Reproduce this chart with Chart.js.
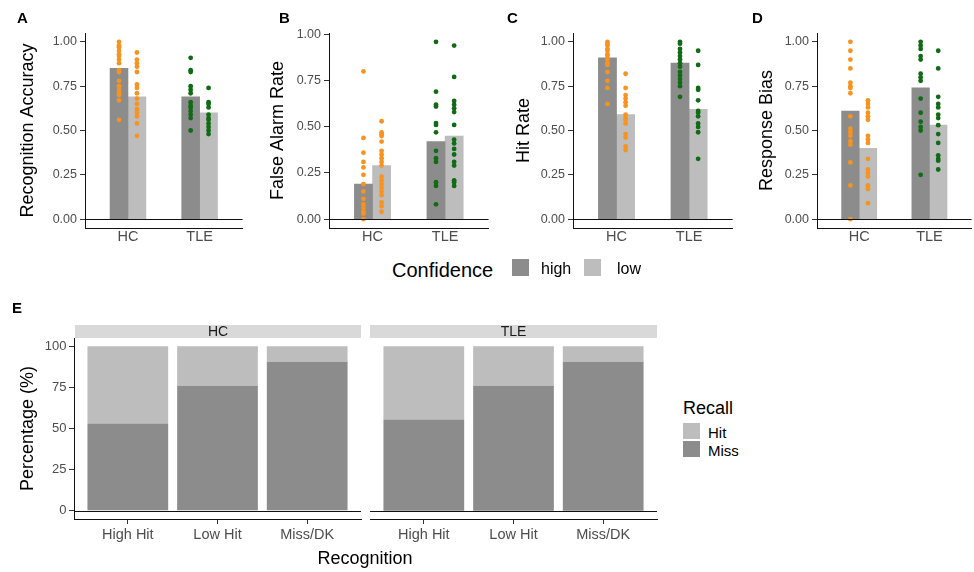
<!DOCTYPE html>
<html><head><meta charset="utf-8">
<script src="https://cdn.jsdelivr.net/npm/chart.js@4.4.1/dist/chart.umd.min.js"></script>
<style>
body{margin:0;background:#fff;}
#wrap{position:relative;width:974px;height:572px;overflow:hidden;font-family:"Liberation Sans",Arial,sans-serif;background:#fff;}
canvas{position:absolute;}
.t{position:absolute;white-space:nowrap;line-height:1;transform:translateY(-50%);color:#000;}
.lbl{font-weight:bold;font-size:15px;}
.strip{position:absolute;background:#d9d9d9;color:#1a1a1a;font-size:14px;text-align:center;line-height:13px;height:13px;}
.key{position:absolute;}
</style></head><body><div id="wrap">
<canvas id="cA" width="245" height="250" style="left:0;top:0"></canvas>
<canvas id="cB" width="246" height="250" style="left:245px;top:0"></canvas>
<canvas id="cC" width="245" height="250" style="left:490px;top:0"></canvas>
<canvas id="cD" width="240" height="250" style="left:734px;top:0"></canvas>
<canvas id="cE1" width="362" height="272" style="left:0;top:300px"></canvas>
<canvas id="cE2" width="300" height="272" style="left:362px;top:300px"></canvas>
</div>
<script>
// ---------- data ----------
const groups = ['HC', 'TLE'];
const confidence = ['high', 'low'];
const topTicks = [0, 0.25, 0.5, 0.75, 1];

// A: Recognition Accuracy
const accMeanHigh = [0.85, 0.69];
const accMeanLow = [0.69, 0.60];
const accHCHigh = [1.00, 0.98, 0.97, 0.95, 0.93, 0.92, 0.90, 0.88, 0.84, 0.83, 0.78, 0.75, 0.73, 0.71, 0.70, 0.67, 0.56];
const accHCLow = [0.94, 0.90, 0.88, 0.86, 0.83, 0.76, 0.74, 0.71, 0.68, 0.65, 0.62, 0.60, 0.58, 0.54, 0.47];
const accTLEHigh = [0.91, 0.84, 0.83, 0.75, 0.73, 0.71, 0.66, 0.64, 0.63, 0.61, 0.59, 0.57, 0.50];
const accTLELow = [0.74, 0.66, 0.65, 0.63, 0.59, 0.57, 0.56, 0.54, 0.52, 0.50, 0.48];

// B: False Alarm Rate
const faMeanHigh = [0.19, 0.42];
const faMeanLow = [0.29, 0.45];
const faHCHigh = [0.80, 0.44, 0.36, 0.31, 0.28, 0.24, 0.19, 0.15, 0.11, 0.08, 0.06, 0.04, 0.03, 0.00];
const faHCLow = [0.53, 0.47, 0.46, 0.45, 0.42, 0.37, 0.35, 0.33, 0.31, 0.29, 0.23, 0.21, 0.19, 0.17, 0.15, 0.13, 0.09, 0.07, 0.04];
const faTLEHigh = [0.96, 0.69, 0.62, 0.61, 0.52, 0.51, 0.47, 0.37, 0.33, 0.31, 0.20, 0.18, 0.08];
const faTLELow = [0.94, 0.77, 0.64, 0.62, 0.60, 0.58, 0.51, 0.43, 0.41, 0.38, 0.35, 0.31, 0.29, 0.21, 0.20, 0.18];

// C: Hit Rate
const hitMeanHigh = [0.91, 0.88];
const hitMeanLow = [0.59, 0.62];
const hitHCHigh = [1.00, 0.99, 0.98, 0.96, 0.95, 0.93, 0.92, 0.90, 0.88, 0.87, 0.83, 0.78, 0.74, 0.65];
const hitHCLow = [0.82, 0.74, 0.70, 0.68, 0.66, 0.64, 0.59, 0.57, 0.56, 0.54, 0.48, 0.46, 0.41, 0.39];
const hitTLEHigh = [1.00, 0.99, 0.96, 0.94, 0.92, 0.90, 0.88, 0.86, 0.83, 0.81, 0.79, 0.77, 0.75, 0.69];
const hitTLELow = [0.95, 0.87, 0.74, 0.73, 0.67, 0.61, 0.60, 0.58, 0.54, 0.52, 0.49, 0.34];

// D: Response Bias
const biasMeanHigh = [0.61, 0.74];
const biasMeanLow = [0.40, 0.53];
const biasHCHigh = [1.00, 0.95, 0.90, 0.85, 0.77, 0.75, 0.74, 0.71, 0.58, 0.51, 0.49, 0.47, 0.44, 0.42, 0.32, 0.19, 0.00];
const biasHCLow = [0.67, 0.65, 0.63, 0.60, 0.58, 0.56, 0.47, 0.45, 0.43, 0.34, 0.28, 0.26, 0.24, 0.19, 0.17, 0.09];
const biasTLEHigh = [1.00, 0.98, 0.96, 0.92, 0.90, 0.82, 0.80, 0.78, 0.68, 0.60, 0.55, 0.52, 0.50, 0.25];
const biasTLELow = [0.95, 0.85, 0.69, 0.65, 0.63, 0.59, 0.57, 0.53, 0.48, 0.43, 0.36, 0.34, 0.33, 0.28];

// E: Recall by Recognition
const recogCats = ['High Hit', 'Low Hit', 'Miss/DK'];
const recallLevels = ['Hit', 'Miss'];
const recallHCMiss = [53, 76, 90.5];
const recallHCHit = [47, 24, 9.5];
const recallTLEMiss = [55.5, 76, 90.5];
const recallTLEHit = [44.5, 24, 9.5];
const pctTicks = [0, 25, 50, 75, 100];

// ---------- styles ----------
const FONT = '"Liberation Sans", Arial, sans-serif';
Chart.defaults.font.family = FONT;
const DARK = '#8c8c8c', LIGHT = '#bdbdbd';
const barColors = [DARK, LIGHT];
const pointColors = ['#f7931e', '#0f6b14'];
const dodge = [-0.125, 0.125];
const TICKCOL = '#4d4d4d';

const zeroLine = {
  id: 'zeroLine',
  afterDatasetsDraw(chart) {
    const y = Math.round(chart.scales.y.getPixelForValue(0)) + 0.5;
    const {left, right} = chart.chartArea;
    const c = chart.ctx;
    c.save(); c.strokeStyle = '#111'; c.lineWidth = 1;
    c.beginPath(); c.moveTo(left, y); c.lineTo(right, y); c.stroke(); c.restore();
  }
};

function topPanel(id, p) {
  const datasets = [];
  groups.forEach((g, gi) => {
    confidence.forEach((c, ci) => {
      datasets.push({
        type: 'scatter',
        data: p.points[gi][ci].map(v => ({x: gi + 1 + dodge[ci], y: v})),
        backgroundColor: pointColors[gi], borderWidth: 0, pointRadius: 2.4, pointHoverRadius: 2.4, order: 0
      });
    });
  });
  confidence.forEach((c, ci) => {
    datasets.push({
      type: 'bar', label: c,
      data: p.means[ci].map((v, gi) => ({x: gi + 1 + dodge[ci], y: v})),
      backgroundColor: barColors[ci], grouped: false,
      barPercentage: 1, categoryPercentage: 1, order: 1
    });
  });
  new Chart(document.getElementById(id), {
    type: 'bar',
    data: {datasets},
    options: {
      responsive: false, animation: false, devicePixelRatio: 1,
      layout: {padding: {top: 33, left: 0, right: p.padRight, bottom: 0}},
      plugins: {legend: {display: false}, tooltip: {enabled: false}},
      scales: {
        x: {
          type: 'linear', min: 0.4, max: 2.6, offset: false,
          afterBuildTicks: s => { s.ticks = groups.map((g, i) => ({value: i + 1})); },
          ticks: {callback: v => groups[Math.round(v) - 1], font: {size: 14.5}, color: TICKCOL,
                  padding: 0, maxRotation: 0, autoSkip: false},
          grid: {display: false, drawOnChartArea: false, drawTicks: false, offset: false},
          border: {display: true, color: '#111', width: 1},
          afterFit: s => { s.height = 22; }
        },
        y: {
          min: p.min, max: p.max,
          afterBuildTicks: s => { s.ticks = topTicks.map(v => ({value: v})); },
          ticks: {callback: v => Number(v).toFixed(2), font: {size: 12.5}, color: TICKCOL, padding: 3},
          grid: {display: true, drawOnChartArea: false, drawTicks: true, tickLength: 5, color: '#333'},
          border: {display: true, color: '#111', width: 1},
          title: {display: true, text: p.title, font: {size: 18}, color: '#000', padding: {top: p.titlePad, bottom: 0}},
          afterFit: s => { s.width = p.axisW; }
        }
      }
    },
    plugins: [zeroLine]
  });
}

topPanel('cA', {title: 'Recognition Accuracy', min: -0.05, max: 1.05, axisW: 85, padRight: 0, titlePad: 17,
  means: [accMeanHigh, accMeanLow], points: [[accHCHigh, accHCLow], [accTLEHigh, accTLELow]]});
topPanel('cB', {title: 'False Alarm Rate', min: -0.048, max: 1.008, axisW: 84, padRight: 0, titlePad: 22,
  means: [faMeanHigh, faMeanLow], points: [[faHCHigh, faHCLow], [faTLEHigh, faTLELow]]});
topPanel('cC', {title: 'Hit Rate', min: -0.05, max: 1.05, axisW: 83, padRight: 0, titlePad: 23,
  means: [hitMeanHigh, hitMeanLow], points: [[hitHCHigh, hitHCLow], [hitTLEHigh, hitTLELow]]});
topPanel('cD', {title: 'Response Bias', min: -0.05, max: 1.05, axisW: 83, padRight: 0, titlePad: 22.5,
  means: [biasMeanHigh, biasMeanLow], points: [[biasHCHigh, biasHCLow], [biasTLEHigh, biasTLELow]]});

function facet(id, miss, hit, showY, pad) {
  const recallColors = {Hit: LIGHT, Miss: DARK};
  const mk = (lvl, vals) => ({
    type: 'bar', label: lvl,
    data: vals.map((v, i) => ({x: i + 1, y: v})),
    backgroundColor: recallColors[lvl], grouped: false,
    barPercentage: 0.9, categoryPercentage: 1
  });
  new Chart(document.getElementById(id), {
    type: 'bar',
    data: {datasets: [mk('Miss', miss), mk('Hit', hit)]},
    options: {
      responsive: false, animation: false, devicePixelRatio: 1,
      layout: {padding: pad},
      plugins: {legend: {display: false}, tooltip: {enabled: false}},
      scales: {
        x: {
          type: 'linear', min: 0.4, max: 3.6, offset: false,
          afterBuildTicks: s => { s.ticks = recogCats.map((g, i) => ({value: i + 1})); },
          ticks: {callback: v => recogCats[Math.round(v) - 1], font: {size: 14.5}, color: TICKCOL,
                  padding: 2, maxRotation: 0, autoSkip: false},
          grid: {display: true, drawOnChartArea: false, drawTicks: true, tickLength: 5, color: '#333', offset: false},
          border: {display: true, color: '#111', width: 1},
          afterFit: s => { s.height = 53; }
        },
        y: {
          display: showY, stacked: true, min: -5, max: 105,
          afterBuildTicks: s => { s.ticks = pctTicks.map(v => ({value: v})); },
          ticks: {font: {size: 13}, color: TICKCOL, padding: 2.5},
          grid: {display: true, drawOnChartArea: false, drawTicks: true, tickLength: 5, color: '#333'},
          border: {display: true, color: '#111', width: 1},
          title: {display: true, text: 'Percentage (%)', font: {size: 18}, color: '#000', padding: {top: 17, bottom: 0}},
          afterFit: s => { s.width = showY ? 74 : 0; }
        }
      }
    },
    plugins: [zeroLine]
  });
}
facet('cE1', recallHCMiss, recallHCHit, true, {top: 38, left: 0, right: 1, bottom: 0});
facet('cE2', recallTLEMiss, recallTLEHit, false, {top: 38, left: 8, right: 5, bottom: 0});

// ---------- text, strips and legends ----------
const wrap = document.getElementById('wrap');
function txt(s, x, y, size, extra) {
  const d = document.createElement('div');
  d.className = 't' + (extra ? ' ' + extra : '');
  d.textContent = s; d.style.left = x + 'px'; d.style.top = y + 'px';
  if (size) d.style.fontSize = size + 'px';
  wrap.appendChild(d); return d;
}
function box(x, y, w, h, col) {
  const d = document.createElement('div');
  d.className = 'key';
  Object.assign(d.style, {left: x + 'px', top: y + 'px', width: w + 'px', height: h + 'px', background: col});
  wrap.appendChild(d);
}
['A', 'B', 'C', 'D'].forEach((l, i) => txt(l, [17, 279, 507, 752][i], 17, 15, 'lbl'));
txt('E', 12, 307, 15, 'lbl');

// facet strips
[[75, 286, groups[0]], [370, 287, groups[1]]].forEach(([x, w, s]) => {
  const d = document.createElement('div');
  d.className = 'strip'; d.textContent = s;
  Object.assign(d.style, {left: x + 'px', top: '325px', width: w + 'px'});
  wrap.appendChild(d);
});
const xt = txt('Recognition', 365, 558, 18);
xt.style.transform = 'translate(-50%,-50%)';

// Confidence legend
txt('Confidence', 392, 270, 20);
box(512, 259, 17, 17, DARK);
txt(confidence[0], 541, 269, 16);
box(584, 259, 17, 17, LIGHT);
txt(confidence[1], 617, 269, 16);

// Recall legend
txt('Recall', 683, 408, 18);
box(683, 423, 17, 16, LIGHT);
txt(recallLevels[0], 708, 432, 15);
box(683, 441, 17, 16, DARK);
txt(recallLevels[1], 708, 450, 15);
</script>
</body></html>
